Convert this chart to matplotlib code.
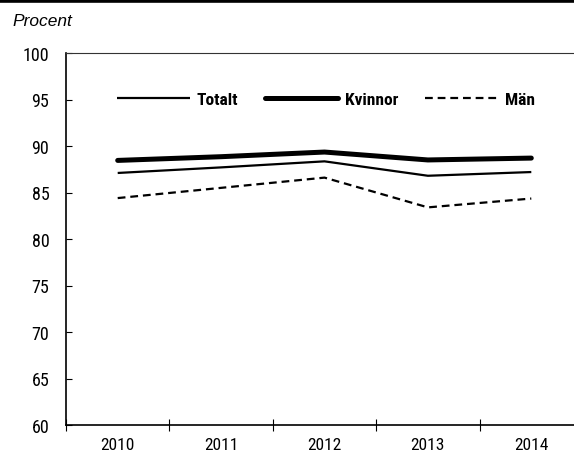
import matplotlib
matplotlib.use("Agg")
import matplotlib.pyplot as plt
from matplotlib.lines import Line2D
import numpy as np

years = ["2010", "2011", "2012", "2013", "2014"]
totalt = [87.1, 87.7, 88.35, 86.8, 87.2]
kvinnor = [88.45, 88.85, 89.35, 88.5, 88.7]
man = [84.4, 85.5, 86.6, 83.4, 84.35]
yticks = [60, 65, 70, 75, 80, 85, 90, 95, 100]

narrow = ["Roboto Condensed", "DejaVu Sans"]
plt.rcParams["font.family"] = narrow
plt.rcParams["font.weight"] = "normal"

fig = plt.figure(figsize=(5.74, 4.56), dpi=100)
ax = fig.add_axes([66/574, 1-426/456, 517/574, 372/456])

x = np.arange(len(years))
ax.plot(x, totalt, color="black", lw=1.6, label="Totalt", solid_capstyle="butt")
ax.plot(x, kvinnor, color="black", lw=3.6, label="Kvinnor", solid_capstyle="round")
ax.plot(x, man, color="black", lw=1.6, ls=(0, (3.5, 2.2)), label="Män")

ax.set_xlim(-0.5, len(years) - 0.5)
ax.set_ylim(60, 100)
ax.set_yticks(yticks)
ax.set_yticklabels([str(v) for v in yticks], fontsize=13, fontweight="normal")
ax.tick_params(axis="y", direction="in", length=4, width=0.8, pad=12)

ax.set_xticks(np.arange(len(years) + 1) - 0.5)
ax.set_xticklabels([])
ax.set_xticks(x, minor=True)
ax.set_xticklabels(years, minor=True, fontsize=12.5, fontweight="normal")
ax.tick_params(axis="x", which="major", direction="inout", length=8.5, width=0.8)
ax.tick_params(axis="x", which="minor", length=0, pad=8.5)

for s in ["left", "bottom"]:
    ax.spines[s].set_linewidth(1.2)
ax.spines["top"].set_linewidth(0.8)
ax.spines["top"].set_color("#333333")
ax.spines["right"].set_visible(False)

leg = ax.legend(loc="center left", bbox_to_anchor=(0.068, 0.876), ncol=3, frameon=False,
                handlelength=4.2, handletextpad=0.4, columnspacing=1.55,
                prop={"family": narrow, "weight": "bold", "size": 12.5})

fig.add_artist(Line2D([0, 1], [1 - 1.5/456, 1 - 1.5/456], transform=fig.transFigure,
                      color="black", lw=2.6))
fig.text(12/574, 1 - 22/456, "Procent", fontsize=12.5, style="italic",
         family=["Liberation Sans", "DejaVu Sans"], va="center", ha="left")

fig.savefig("out.png", dpi=100)
